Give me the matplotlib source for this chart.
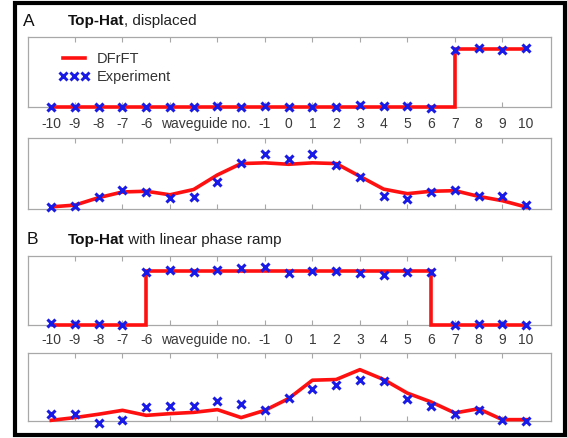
import numpy as np
import matplotlib
matplotlib.use("Agg")
import matplotlib.pyplot as plt
from matplotlib.lines import Line2D
from matplotlib.patches import Rectangle
import matplotlib.transforms as mtransforms

plt.rcParams['font.family'] = ['Liberation Sans', 'DejaVu Sans']

# ---------------- data ----------------
waveguides = list(range(-10, 11))
tick_labels = ["-10", "-9", "-8", "-7", "-6", "", "", "", "", "-1", "0",
               "1", "2", "3", "4", "5", "6", "7", "8", "9", "10"]
axis_label = "waveguide no."
axis_label_pos = -3.5

# Panel A: Top-Hat, displaced
A_top_theory = [0, 0, 0, 0, 0, 0, 0, 0, 0, 0, 0, 0, 0, 0, 0, 0, 0, 1, 1, 1, 1]
A_top_exp = [0, 0, 0, 0, 0, 0, 0, 0.01, 0, 0.01, 0, 0, 0, 0.04, 0.01, 0.01,
             -0.01, 0.98, 1.01, 0.97, 1.01]
A_bot_theory = [0.03, 0.055, 0.16, 0.24, 0.25, 0.20, 0.275, 0.48, 0.64, 0.65,
                0.63, 0.65, 0.64, 0.46, 0.28, 0.216, 0.25, 0.258, 0.178, 0.117, 0.028]
A_bot_exp = [0.024, 0.04, 0.17, 0.27, 0.24, 0.15, 0.17, 0.38, 0.65, 0.78,
             0.71, 0.78, 0.62, 0.446, 0.188, 0.14, 0.24, 0.27, 0.178, 0.178, 0.06]

# Panel B: Top-Hat with linear phase ramp
B_top_theory = [0, 0, 0, 0, 1, 1, 1, 1, 1, 1, 1, 1, 1, 1, 1, 1, 1, 0, 0, 0, 0]
B_top_exp = [0.025, 0.01, 0.01, 0, 0.98, 1.01, 0.97, 1.01, 1.04, 1.06,
             0.96, 0.99, 1.0, 0.96, 0.92, 0.97, 0.97, -0.01, 0.01, 0.01, -0.01]
B_bot_theory = [0.01, 0.05, 0.10, 0.157, 0.083, 0.108, 0.127, 0.167, 0.05, 0.157,
                0.33, 0.60, 0.61, 0.755, 0.61, 0.41, 0.28, 0.118, 0.18, 0.02, 0.02]
B_bot_exp = [0.108, 0.108, -0.025, 0.02, 0.206, 0.216, 0.22, 0.29, 0.245, 0.157,
             0.34, 0.475, 0.525, 0.60, 0.583, 0.33, 0.216, 0.098, 0.167, 0.02, -0.005]

titles = [("A", "Top-Hat", ", displaced"),
          ("B", "Top-Hat", " with linear phase ramp")]
legend_labels = ["DFrFT", "Experiment"]

# ---------------- layout helpers ----------------
W, H = 567, 438
fig = plt.figure(figsize=(W / 100, H / 100), dpi=100)


def rect(left, top, right, bottom):
    return [left / W, 1 - bottom / H, (right - left) / W, (bottom - top) / H]


def tophat_path(x, y):
    xs, ys = [x[0]], [y[0]]
    for i in range(1, len(x)):
        if y[i] != y[i - 1]:
            xe = x[i] if y[i] > y[i - 1] else x[i - 1]
            xs += [xe, xe]
            ys += [y[i - 1], y[i]]
        xs.append(x[i])
        ys.append(y[i])
    return xs, ys


RED = '#ff1010'
BLUE = '#1a1ae6'
SPINE = '#a8a8a8'
LW = 2.6
MS = 6
MEW = 2.2


def style_axes(ax, ytop):
    ax.set_xlim(-11, 11.05)
    ax.set_ylim(0, ytop)
    ax.set_yticks([])
    ax.set_xticks([v for v in waveguides if v % 2 != 0])
    ax.tick_params(axis='x', direction='in', length=3.5, width=0.8,
                   color=SPINE, top=True, bottom=True, labelbottom=False)
    for s in ax.spines.values():
        s.set_color(SPINE)
        s.set_linewidth(0.9)


L, R = 27.5, 551
panels = [
    dict(top=(37, 107), bot=(138, 209), lab_y=124, title_y=21, letter_x=23,
         top_th=A_top_theory, top_ex=A_top_exp, bot_th=A_bot_theory, bot_ex=A_bot_exp,
         ytop=1.2, title=titles[0], legend=True),
    dict(top=(256, 324.5), bot=(353, 421), lab_y=340, title_y=240, letter_x=27,
         top_th=B_top_theory, top_ex=B_top_exp, bot_th=B_bot_theory, bot_ex=B_bot_exp,
         ytop=1.27, title=titles[1], legend=False),
]

renderer = fig.canvas.get_renderer()

for p in panels:
    ax1 = fig.add_axes(rect(L, p['top'][0], R, p['top'][1]))
    style_axes(ax1, p['ytop'])
    xs, ys = tophat_path(waveguides, p['top_th'])
    ax1.plot(xs, ys, color=RED, lw=LW, clip_on=False, zorder=3,
             solid_capstyle='butt', solid_joinstyle='miter')
    ax1.plot(waveguides, p['top_ex'], ls='none', marker='x', color=BLUE,
             ms=MS, mew=MEW, clip_on=False, zorder=4)

    ax2 = fig.add_axes(rect(L, p['bot'][0], R, p['bot'][1]))
    style_axes(ax2, 1.0)
    ax2.plot(waveguides, p['bot_th'], color=RED, lw=LW, clip_on=False, zorder=3)
    ax2.plot(waveguides, p['bot_ex'], ls='none', marker='x', color=BLUE,
             ms=MS, mew=MEW, clip_on=False, zorder=4)

    # tick labels between the two axes
    trans = mtransforms.blended_transform_factory(ax1.transData, fig.transFigure)
    yl = 1 - p['lab_y'] / H
    for v, t in zip(waveguides, tick_labels):
        if t:
            fig.text(v, yl, t, transform=trans, ha='center', va='center',
                     fontsize=10, color='#3a3a3a')
    fig.text(axis_label_pos, yl, axis_label, transform=trans, ha='center',
             va='center', fontsize=10, color='#3a3a3a')

    # titles
    letter, bold, rest = p['title']
    ty = 1 - p['title_y'] / H
    fig.text(p['letter_x'] / W, ty, letter, ha='left', va='center',
             fontsize=12.5, color='#111111')
    tb = fig.text(68 / W, ty, bold, ha='left', va='center', fontsize=11,
                  fontweight='bold', color='#111111')
    bb = tb.get_window_extent(renderer=renderer)
    fig.text(bb.x1 / W, ty, rest, ha='left', va='center', fontsize=11,
             color='#222222')

    if p['legend']:
        handles = [Line2D([], [], color=RED, lw=LW),
                   Line2D([], [], ls='none', marker='x', color=BLUE, ms=5.5, mew=2.1)]
        ax1.legend(handles, legend_labels, loc='upper left',
                   bbox_to_anchor=((59 - L) / (R - L), 0.79), frameon=False,
                   borderpad=0, borderaxespad=0, handlelength=2.1,
                   handletextpad=0.5, labelspacing=0.3, numpoints=3,
                   fontsize=10.5, labelcolor='#333333')

# outer frame
fig.patches.append(Rectangle((14.7 / W, 1 - 435 / H), (564.5 - 14.7) / W,
                             (435 - 3) / H, transform=fig.transFigure,
                             fill=False, edgecolor='black', lw=3, zorder=10))

fig.savefig("out.png", dpi=100)
